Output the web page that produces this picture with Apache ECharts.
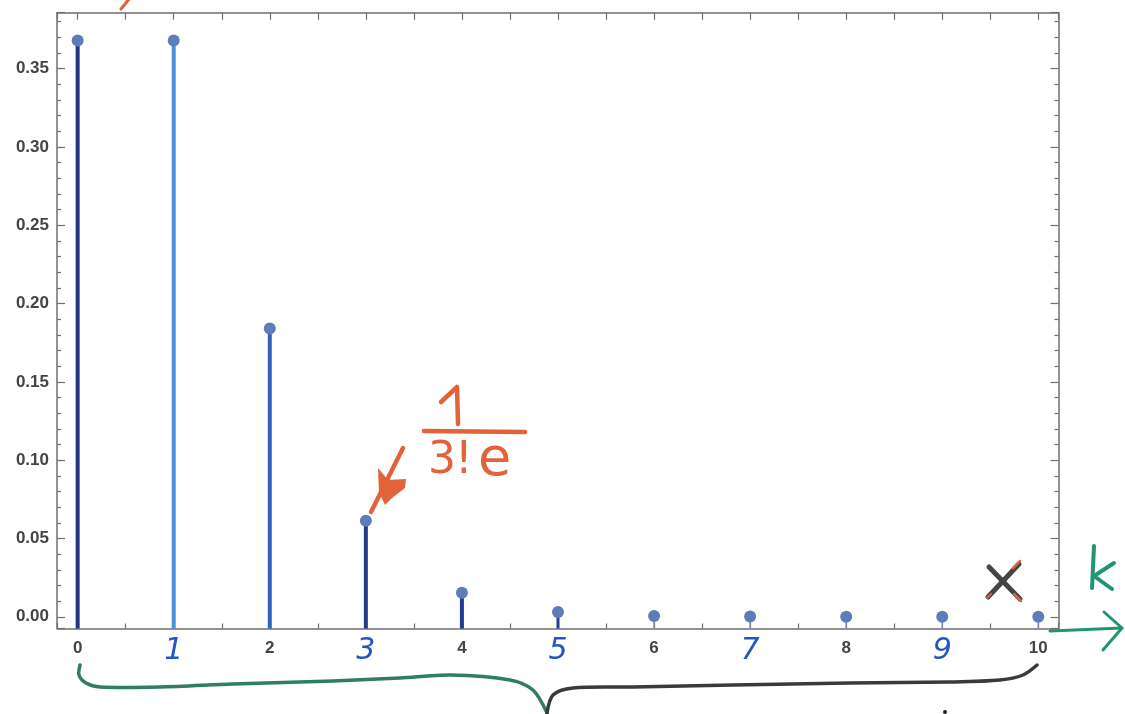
<!DOCTYPE html>
<html>
<head>
<meta charset="utf-8">
<script src="https://cdn.jsdelivr.net/npm/echarts@6/dist/echarts.min.js"></script>
<style>html,body{margin:0;padding:0;background:#fff}#c{width:1125px;height:714px}</style>
</head>
<body>
<div id="c"></div>
<script>
// ---- data ----
const ks = [0, 1, 2, 3, 4, 5, 6, 7, 8, 9, 10];
const probs = [0.368, 0.368, 0.184, 0.0613, 0.0153, 0.0031, 0.0005, 0.0001, 0.00001, 0.000001, 0.0000001];
const yTickLabels = ['0.00', '0.05', '0.10', '0.15', '0.20', '0.25', '0.30', '0.35'];
const handLabels = [1, 3, 5, 7, 9];

// ---- style ----
const stemColors = ['#25328a', '#4a92dc', '#2e63bd', '#24398e', '#233a93', '#26408f', '#7a86a6', '#7a86a6', '#7a86a6', '#7a86a6', '#7a86a6'];
const stemWidths = [4, 4, 4, 4, 4, 3, 1.5, 1.5, 1.5, 1.5, 1.5];
const X_MIN = -0.215, X_MAX = 10.21, Y_MIN = -0.0075, Y_MAX = 0.3857;
const axisColor = '#6f6f6f';
const red = '#e2623a';
const green = '#1f9670';

const chart = echarts.init(document.getElementById('c'));

const baseX = {
  type: 'value', min: X_MIN, max: X_MAX, minInterval: 1, maxInterval: 1, splitNumber: 10,
  splitLine: { show: false },
  axisLine: { show: true, onZero: false, lineStyle: { color: axisColor, width: 1.5 } },
};
const baseY = {
  type: 'value', min: Y_MIN, max: Y_MAX, minInterval: 0.05, maxInterval: 0.05, splitNumber: 8,
  splitLine: { show: false },
  axisLine: { show: true, onZero: false, lineStyle: { color: axisColor, width: 1.5 } },
  axisTick: { show: true, inside: true, length: 8, lineStyle: { color: axisColor, width: 1.2 } },
  minorTick: { show: true, splitNumber: 5, length: 4, lineStyle: { color: axisColor, width: 1.2 } },
};

const option = {
  animation: false,
  backgroundColor: '#ffffff',
  grid: { left: 57, right: 66.5, top: 12.7, bottom: 85.5 },
  xAxis: [
    Object.assign({}, baseX, {
      position: 'bottom',
      axisTick: { show: true, inside: true, length: 6, lineStyle: { color: axisColor, width: 1.2 } },
      minorTick: { show: true, splitNumber: 2, length: 5, lineStyle: { color: axisColor, width: 1.2 } },
      axisLabel: {
        showMinLabel: false, showMaxLabel: false, margin: 8,
        formatter: function (v) {
          if (!ks.includes(v)) return '';
          return handLabels.includes(v) ? '{h|' + v + '}' : '{p|' + v + '}';
        },
        rich: {
          p: { fontFamily: 'Liberation Sans, Arial', fontWeight: 'bold', fontSize: 17, color: '#444', height: 24, padding: [0, 0, 0, 0] },
          h: { fontFamily: 'DejaVu Sans', fontStyle: 'italic', fontWeight: 'normal', fontSize: 30, color: '#2455c4', height: 24, padding: [3, 0, 0, 0] }
        }
      }
    }),
    Object.assign({}, baseX, {
      position: 'top',
      axisTick: { show: true, inside: true, length: 7, lineStyle: { color: axisColor, width: 1.2 } },
      minorTick: { show: true, splitNumber: 2, length: 7, lineStyle: { color: axisColor, width: 1.2 } },
      axisLabel: { show: false }
    })
  ],
  yAxis: [
    Object.assign({}, baseY, {
      position: 'left',
      axisLabel: {
        margin: 8, fontFamily: 'Liberation Sans, Arial', fontWeight: 'bold', fontSize: 17, color: '#444',
        formatter: function (v) {
          const s = v.toFixed(2);
          return yTickLabels.includes(s) && Math.abs(v - parseFloat(s)) < 1e-9 ? s : '';
        },
        showMinLabel: false, showMaxLabel: false
      }
    }),
    Object.assign({}, baseY, { position: 'right', axisLabel: { show: false } })
  ],
  series: [
    {
      type: 'custom',
      xAxisIndex: 0, yAxisIndex: 0,
      data: ks.map((k, i) => [k, probs[i]]),
      renderItem: function (params, api) {
        const i = params.dataIndex;
        const top = api.coord([api.value(0), api.value(1)]);
        const bot = api.coord([api.value(0), Y_MIN]);
        return {
          type: 'line',
          shape: { x1: bot[0], y1: bot[1], x2: top[0], y2: top[1] },
          style: { stroke: stemColors[i], lineWidth: stemWidths[i] }
        };
      },
      z: 2
    },
    {
      type: 'scatter',
      xAxisIndex: 0, yAxisIndex: 0,
      data: ks.map((k, i) => [k, probs[i]]),
      symbol: 'circle', symbolSize: 12,
      itemStyle: { color: '#5d7db6', opacity: 1 },
      z: 3
    }
  ],
  graphic: [
    // red slash at top
    { type: 'line', shape: { x1: 121, y1: 9, x2: 130, y2: -2 }, style: { stroke: red, lineWidth: 3, lineCap: 'round' }, z: 10 },
    // 1 / 3!e
    { type: 'polyline', shape: { points: [[441, 402], [457, 387], [458, 424]] }, style: { stroke: red, lineWidth: 4.5, fill: null, lineCap: 'round', lineJoin: 'round' }, z: 10 },
    { type: 'line', shape: { x1: 424, y1: 431, x2: 525, y2: 432 }, style: { stroke: red, lineWidth: 4.5, lineCap: 'round' }, z: 10 },
    { type: 'text', left: 428, top: 440, style: { text: '3', fontFamily: 'DejaVu Sans', fontSize: 44, fill: red }, z: 10 },
    { type: 'text', left: 455, top: 440, style: { text: '!', fontFamily: 'DejaVu Sans', fontSize: 44, fill: red }, z: 10 },
    { type: 'text', left: 478, top: 434, style: { text: 'e', fontFamily: 'DejaVu Sans', fontSize: 54, fill: red }, z: 10 },
    // arrow to k=3 point
    { type: 'line', shape: { x1: 403, y1: 448, x2: 371, y2: 512 }, style: { stroke: red, lineWidth: 4.5, lineCap: 'round' }, z: 10 },
    { type: 'polygon', shape: { points: [[378, 468], [388, 480], [406, 479], [405, 488], [392, 498], [385, 505], [379, 492]] }, style: { fill: red }, z: 10 },
    // X
    { type: 'line', shape: { x1: 989, y1: 567, x2: 1020, y2: 599 }, style: { stroke: '#454545', lineWidth: 5, lineCap: 'round' }, z: 10 },
    { type: 'line', shape: { x1: 1019, y1: 564, x2: 988, y2: 597 }, style: { stroke: '#454545', lineWidth: 5, lineCap: 'round' }, z: 10 },
    { type: 'line', shape: { x1: 1013, y1: 568, x2: 1020, y2: 561 }, style: { stroke: red, lineWidth: 2.5, lineCap: 'round' }, z: 11 },
    { type: 'line', shape: { x1: 1014, y1: 594, x2: 1021, y2: 601 }, style: { stroke: red, lineWidth: 2.5, lineCap: 'round' }, z: 11 },
    { type: 'line', shape: { x1: 987, y1: 598, x2: 991, y2: 594 }, style: { stroke: red, lineWidth: 2, lineCap: 'round' }, z: 11 },
    // k
    { type: 'line', shape: { x1: 1094, y1: 546, x2: 1092, y2: 588 }, style: { stroke: green, lineWidth: 4, lineCap: 'round' }, z: 10 },
    { type: 'polyline', shape: { points: [[1114, 563], [1094, 576], [1112, 589]] }, style: { stroke: green, lineWidth: 4, fill: null, lineCap: 'round', lineJoin: 'round' }, z: 10 },
    // green axis arrow
    { type: 'line', shape: { x1: 1050, y1: 631, x2: 1122, y2: 628 }, style: { stroke: green, lineWidth: 3, lineCap: 'round' }, z: 10 },
    { type: 'polyline', shape: { points: [[1104, 612], [1122, 628], [1103, 650]] }, style: { stroke: green, lineWidth: 3, fill: null, lineCap: 'round', lineJoin: 'round' }, z: 10 },
    // brace
    { type: 'polyline', shape: { smooth: 0.3, points: [[80, 665], [79, 675], [86, 683], [100, 687], [160, 687], [233, 684], [333, 681], [400, 678], [450, 675], [510, 680], [533, 690], [547, 713]] }, style: { stroke: '#2f7d62', lineWidth: 3.5, fill: null, lineCap: 'round' }, z: 10 },
    { type: 'polyline', shape: { smooth: 0.3, points: [[547, 713], [553, 695], [573, 688], [633, 687], [733, 685], [850, 683], [950, 682], [1000, 680], [1023, 675], [1037, 665]] }, style: { stroke: '#3a3a3a', lineWidth: 3.5, fill: null, lineCap: 'round' }, z: 10 },
    { type: 'circle', shape: { cx: 945, cy: 712, r: 2 }, style: { fill: '#222' }, z: 10 }
  ]
};
chart.setOption(option);
</script>
</body>
</html>
